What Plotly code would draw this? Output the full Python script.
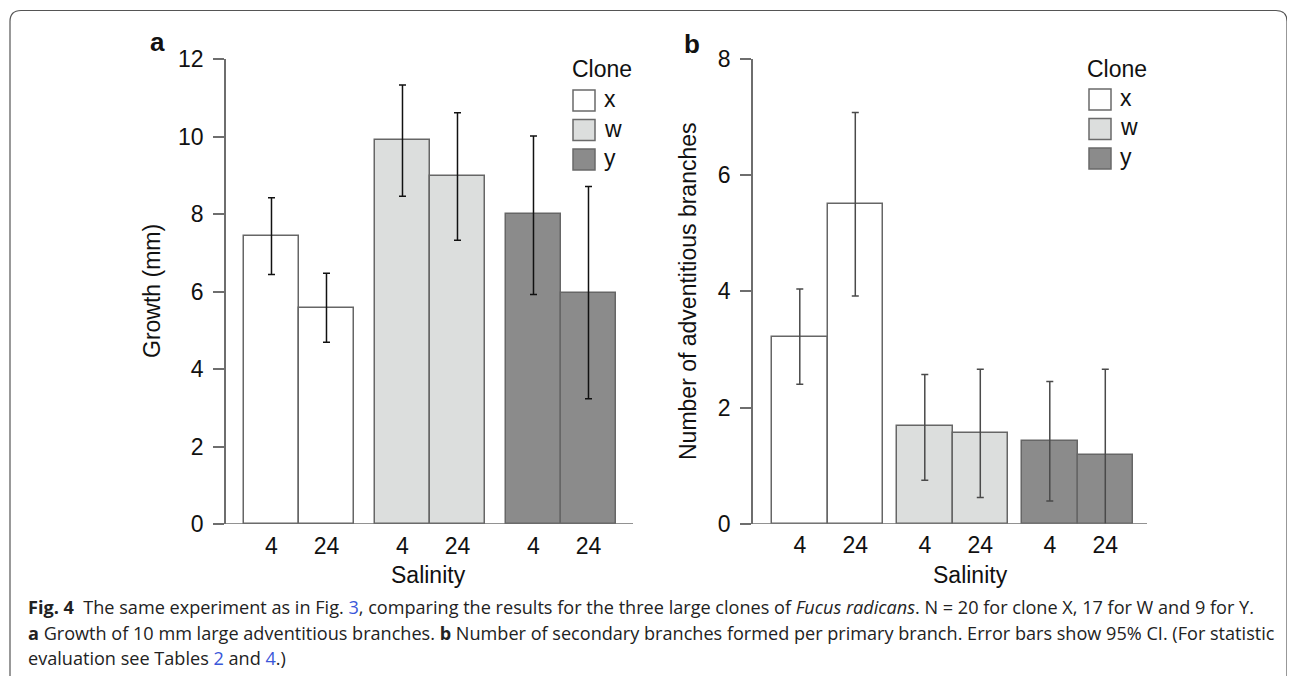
import plotly.graph_objects as go

W, H = 1295, 676
OFF = 8  # page body margin offset

# ---------------- data ----------------
clones = ["x", "w", "y"]
salinity = ["4", "24"]
clone_fill = {"x": "#ffffff", "w": "#dcdedd", "y": "#8b8b8b"}

growth_mean = {"x": [7.43, 5.58], "w": [9.90, 8.97], "y": [7.99, 5.97]}
growth_lo   = {"x": [6.44, 4.69], "w": [8.46, 7.32], "y": [5.92, 3.23]}
growth_hi   = {"x": [8.42, 6.47], "w": [11.33, 10.61], "y": [10.01, 8.71]}

branch_mean = {"x": [3.22, 5.51], "w": [1.68, 1.57], "y": [1.43, 1.18]}
branch_lo   = {"x": [2.40, 3.92], "w": [0.75, 0.45], "y": [0.39, -0.30]}
branch_hi   = {"x": [4.04, 7.08], "w": [2.57, 2.66], "y": [2.45, 2.66]}

ytick_a = [0, 2, 4, 6, 8, 10, 12]
ytick_b = [0, 2, 4, 6, 8]

def px(x):
    return (x - OFF) / W

def py(y):
    return 1 - (y - OFF) / H

FONT = "Liberation Sans, Arial, sans-serif"
AX = "#6e6e6e"
FS = 23

fig = go.Figure()


def add_panel(mean, lo, hi, gap, xa, ya, errcolor):
    tickpos, ticktxt = [], []
    for g, c in enumerate(clones):
        pos = [g * (len(salinity) + gap) + s for s in range(len(salinity))]
        tickpos += pos
        ticktxt += salinity
        fig.add_trace(go.Bar(
            x=pos, y=mean[c], width=1.0, name=c, showlegend=False,
            xaxis=xa, yaxis=ya,
            marker=dict(color=clone_fill[c], line=dict(color="#666666", width=1.5)),
            error_y=dict(type="data", symmetric=False,
                         array=[h - m for h, m in zip(hi[c], mean[c])],
                         arrayminus=[m - l for m, l in zip(mean[c], lo[c])],
                         color=errcolor, thickness=1.5, width=3.5),
        ))
    return tickpos, ticktxt


tpa, tta = add_panel(growth_mean, growth_lo, growth_hi, 21 / 55, "x", "y", "#111111")
tpb, ttb = add_panel(branch_mean, branch_lo, branch_hi, 14 / 55.5, "x2", "y2", "#4a4a4a")

xcommon = dict(showline=False, showgrid=False, zeroline=False, ticks="outside",
               ticklen=1, tickcolor="rgba(0,0,0,0)",
               tickfont=dict(family=FONT, size=FS, color="#111"))
ycommon = dict(showline=True, linecolor=AX, linewidth=1.5, showgrid=False,
               zeroline=False, ticks="outside", ticklen=11, tickcolor=AX,
               tickwidth=1.5, ticklabelstandoff=5,
               tickfont=dict(family=FONT, size=FS, color="#111"))

fig.update_layout(
    width=W, height=H, margin=dict(l=0, r=0, t=0, b=0, autoexpand=False),
    paper_bgcolor="white", plot_bgcolor="white", bargap=0, showlegend=False,
    xaxis=dict(domain=[px(226), px(633)], range=[-0.827, 6.573],
               tickmode="array", tickvals=tpa, ticktext=tta, **xcommon),
    yaxis=dict(domain=[py(524), py(59)], range=[0, 12],
               tickmode="array", tickvals=ytick_a, **ycommon),
    xaxis2=dict(domain=[px(753), px(1147)], range=[-0.843, 6.256],
                tickmode="array", tickvals=tpb, ticktext=ttb, anchor="y2", **xcommon),
    yaxis2=dict(domain=[py(523.7), py(59)], range=[0, 8], anchor="x2",
                tickmode="array", tickvals=ytick_b, **ycommon),
)

fig.add_shape(type="line", xref="x domain", yref="y", x0=-0.027, x1=1, y0=0, y1=0,
              line=dict(color=AX, width=1.5))
fig.add_shape(type="line", xref="x2 domain", yref="y2", x0=-0.025, x1=1, y0=0, y1=0,
              line=dict(color=AX, width=1.5))

ann = []
def text(x, y, s, size=FS, angle=0, xanchor="center", color="#111", family=FONT):
    ann.append(dict(x=px(x), y=py(y), xref="paper", yref="paper", text=s,
                    showarrow=False, textangle=angle, xanchor=xanchor, yanchor="middle",
                    font=dict(family=family, size=size, color=color)))

text(428, 575, "Salinity")
text(970, 575, "Salinity")
text(152, 291, "Growth (mm)", angle=-90)
text(688, 291, "Number of adventitious branches", angle=-90)
text(157, 42, "<b>a</b>", size=26)
text(692, 44, "<b>b</b>", size=26)

for (tx, bx, by0) in [(570, 573, 90), (1085, 1089, 89)]:
    text(tx, 69, "Clone", xanchor="left")
    for i, c in enumerate(clones):
        y0 = by0 + i * 29.5
        fig.add_shape(type="rect", xref="paper", yref="paper",
                      x0=px(bx), x1=px(bx + 22), y0=py(y0), y1=py(y0 + 21),
                      fillcolor=clone_fill[c], line=dict(color="#6a6a6a", width=1.5))
        text(bx + 29, y0 + 9, c, xanchor="left")

CAP = "Open Sans, sans-serif"
LINK = "#3b57d9"
cap_lines = [
    "<b>Fig. 4</b>  The same experiment as in Fig. <span style='color:%s'>3</span>, comparing the results for the three large clones of <i>Fucus radicans</i>. N = 20 for clone X, 17 for W and 9 for Y." % LINK,
    "<b>a</b> Growth of 10 mm large adventitious branches. <b>b</b> Number of secondary branches formed per primary branch. Error bars show 95% CI. (For statistic",
    "evaluation see Tables <span style='color:%s'>2</span> and <span style='color:%s'>4</span>.)" % (LINK, LINK),
]
for i, s in enumerate(cap_lines):
    text(26, 607 + i * 25.5, s, size=18.1, xanchor="left", color="#222", family=CAP)

fig.update_layout(annotations=ann)

x0, x1, yt, r = 10, 1287, 10.5, 11
path = (f"M {px(x0)},{py(H + 20)} L {px(x0)},{py(yt + r)} "
        f"Q {px(x0)},{py(yt)} {px(x0 + r)},{py(yt)} "
        f"L {px(x1 - r)},{py(yt)} Q {px(x1)},{py(yt)} {px(x1)},{py(yt + r)} "
        f"L {px(x1)},{py(H + 20)}")
fig.add_shape(type="path", xref="paper", yref="paper", path=path,
              line=dict(color="#555555", width=1.2))

fig.write_html("out.html")
